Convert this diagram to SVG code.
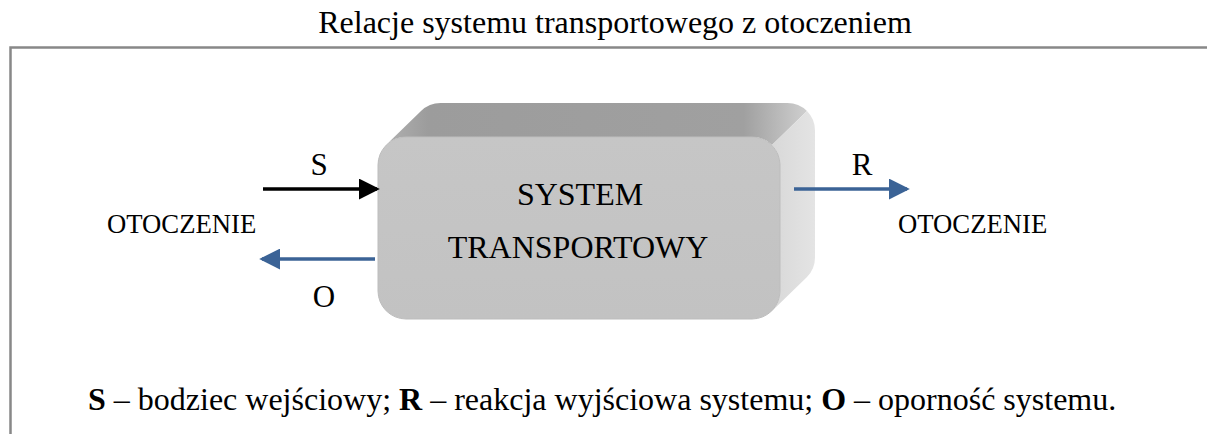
<svg xmlns="http://www.w3.org/2000/svg" width="1207" height="434" viewBox="0 0 1207 434">
<style>
.t{font-family:"Liberation Serif","Times New Roman",serif;fill:#000}
.frame{fill:none;stroke:#888;stroke-width:2.5}
.blue{stroke:#3b6396;stroke-width:3.5;fill:none}
.black{stroke:#000;stroke-width:3.5;fill:none}
</style>
<defs>
<marker id="ab" markerWidth="6" markerHeight="6" refX="5.2" refY="3" orient="auto" markerUnits="strokeWidth" viewBox="0 0 6 6"><path d="M0,0 L6,3 L0,6 z" fill="#000"/></marker>
<marker id="au" markerWidth="6" markerHeight="6" refX="5.2" refY="3" orient="auto" markerUnits="strokeWidth" viewBox="0 0 6 6"><path d="M0,0 L6,3 L0,6 z" fill="#3b6396"/></marker>
<linearGradient id="gTop" x1="0" y1="0" x2="1" y2="0">
<stop offset="0" stop-color="#b0b0b0"/><stop offset="0.1" stop-color="#9c9c9c"/><stop offset="0.85" stop-color="#a0a0a0"/><stop offset="1" stop-color="#cfcfcf"/>
</linearGradient>
<linearGradient id="gSide" x1="0" y1="0" x2="1" y2="0">
<stop offset="0" stop-color="#d8d8d8"/><stop offset="1" stop-color="#e4e4e4"/>
</linearGradient>
<linearGradient id="gFront" x1="0" y1="0" x2="0" y2="1">
<stop offset="0" stop-color="#c6c6c6"/><stop offset="1" stop-color="#c2c2c2"/>
</linearGradient>
</defs>
<text class="t" x="615" y="33" font-size="32" text-anchor="middle">Relacje systemu transportowego z otoczeniem</text>
<path class="frame" d="M10.5,434 L10.5,47.5 L1207,47.5"/>
<g id="system">
<path d="M386,145 L421,111 A28,28 0 0 1 441,103 L787,103 A28,28 0 0 1 807,111 L772,145 A28,28 0 0 0 752,137 L406,137 A28,28 0 0 0 386,145 Z" fill="url(#gTop)"/>
<path d="M772,145 L807,111 A28,28 0 0 1 815,131 L815,257 A28,28 0 0 1 807,277 L772,311 A28,28 0 0 0 780,291 L780,165 A28,28 0 0 0 772,145 Z" fill="url(#gSide)"/>
<rect x="378" y="137" width="402" height="182" rx="28" fill="url(#gFront)" stroke="#bdbdbd" stroke-width="1"/>
<text class="t" x="580" y="205" font-size="32" text-anchor="middle">SYSTEM</text>
<text class="t" x="578" y="258" font-size="32" text-anchor="middle">TRANSPORTOWY</text>
</g>
<g id="otoczenie-left"><text class="t" x="107" y="233" font-size="26.7">OTOCZENIE</text></g>
<g id="otoczenie-right"><text class="t" x="898" y="233" font-size="26.7">OTOCZENIE</text></g>
<g id="connectors">
<line class="black" x1="263" y1="189" x2="377" y2="189" marker-end="url(#ab)"/>
<line class="blue" x1="375" y1="259" x2="262" y2="259" marker-end="url(#au)"/>
<line class="blue" x1="794" y1="189" x2="907" y2="189" marker-end="url(#au)"/>
<text class="t" x="319" y="175" font-size="31" text-anchor="middle">S</text>
<text class="t" x="324" y="307" font-size="31" text-anchor="middle">O</text>
<text class="t" x="862" y="175" font-size="31" text-anchor="middle">R</text>
</g>
<text class="t" x="88" y="410" font-size="32"><tspan font-weight="bold">S</tspan> – bodziec wejściowy; <tspan font-weight="bold">R</tspan> – reakcja wyjściowa systemu; <tspan font-weight="bold">O</tspan> – oporność systemu.</text>
</svg>
